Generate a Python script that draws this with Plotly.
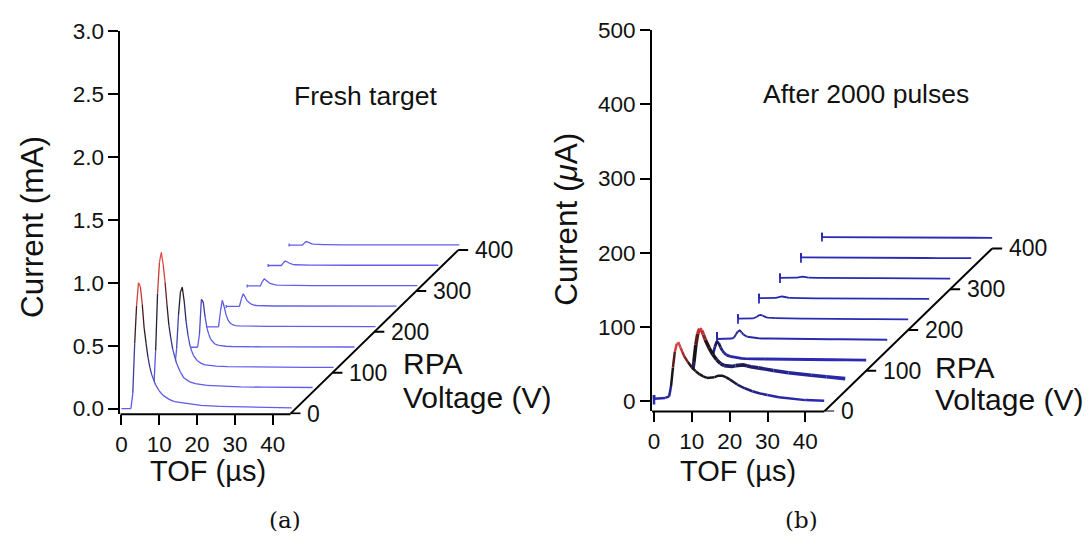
import plotly.graph_objects as go

W, H = 1091, 541

# ---------------- data: panel (a) "Fresh target", current in mA ----------------
rpa_a = [0, 50, 100, 150, 200, 250, 300, 350, 400]
tof_a = [0, 0, 0, 0.5, 2.5, 3.0, 3.5, 4.0, 4.5, 5.0, 5.5, 6.0, 6.5, 7.0, 7.5, 8.0,
         9.0, 10.0, 11.0, 12.5, 14.0, 17.0, 21.0, 26.0, 32.0, 38.0, 45.0]
cur_a_0V = [0, 0, 0, 0, 0, 0.12, 0.52, 0.82, 1.00, 0.97, 0.83, 0.64, 0.52, 0.41, 0.33, 0.27,
            0.19, 0.14, 0.105, 0.075, 0.055, 0.04, 0.025, 0.018, 0.012, 0.008, 0.005]
cur_a_50V = [-0.012, 0.012, 0, 0, 0, 0.0, 0.30, 0.75, 1.00, 1.08, 0.98, 0.84, 0.66, 0.50, 0.40, 0.31,
             0.20, 0.13, 0.08, 0.05, 0.035, 0.022, 0.015, 0.01, 0.008, 0.006, 0.005]
cur_a_100V = [-0.012, 0.012, 0, 0, 0, 0.0, 0.15, 0.42, 0.60, 0.64, 0.53, 0.37, 0.26, 0.18, 0.13, 0.095,
              0.055, 0.035, 0.023, 0.016, 0.012, 0.009, 0.007, 0.005, 0.004, 0.003, 0.002]
cur_a_150V = [-0.012, 0.012, 0, 0, 0, 0, 0, 0.10, 0.38, 0.36, 0.24, 0.15, 0.10, 0.062, 0.04, 0.028,
              0.015, 0.01, 0.008, 0.006, 0.005, 0.004, 0.003, 0.003, 0.002, 0.002, 0.002]
cur_a_200V = [-0.012, 0.012, 0, 0, 0, 0, 0, 0.12, 0.21, 0.16, 0.095, 0.055, 0.032, 0.02, 0.014, 0.01,
              0.007, 0.006, 0.005, 0.004, 0.004, 0.003, 0.003, 0.002, 0.002, 0.002, 0.002]
cur_a_250V = [-0.012, 0.012, 0, 0, 0, 0, 0, 0.06, 0.10, 0.075, 0.045, 0.03, 0.02, 0.012, 0.009, 0.007,
              0.005, 0.004, 0.004, 0.003, 0.003, 0.003, 0.002, 0.002, 0.002, 0.002, 0.002]
cur_a_300V = [-0.012, 0.012, 0, 0, 0, 0, 0, 0.035, 0.056, 0.045, 0.03, 0.02, 0.014, 0.01, 0.008, 0.006,
              0.005, 0.004, 0.003, 0.003, 0.003, 0.002, 0.002, 0.002, 0.002, 0.002, 0.002]
cur_a_350V = [-0.012, 0.012, 0, 0, 0, 0, 0, 0.02, 0.035, 0.03, 0.02, 0.013, 0.009, 0.006, 0.005, 0.004,
              0.004, 0.003, 0.003, 0.003, 0.002, 0.002, 0.002, 0.002, 0.002, 0.002, 0.002]
cur_a_400V = [-0.012, 0.012, 0, 0, 0, 0, 0, 0.015, 0.028, 0.024, 0.016, 0.01, 0.007, 0.005, 0.004, 0.003,
              0.003, 0.003, 0.002, 0.002, 0.002, 0.002, 0.002, 0.002, 0.002, 0.002, 0.002]
curves_a = [cur_a_0V, cur_a_50V, cur_a_100V, cur_a_150V, cur_a_200V,
            cur_a_250V, cur_a_300V, cur_a_350V, cur_a_400V]

# ---------------- data: panel (b) "After 2000 pulses", current in uA ----------------
rpa_b = [0, 50, 100, 150, 200, 250, 300, 350, 400]
tof_b = [0, 0, 0, 0.5, 2.0, 3.0, 4.0, 4.5, 5.0, 5.5, 6.0, 6.5, 7.0, 7.5, 8.0,
         9, 10, 11, 12, 13, 14, 15, 16, 17, 18, 19, 20, 22, 24, 26, 28, 30, 33, 36, 40, 45]
cur_b_0V = [-5, 8, 3, 3, 3, 4, 6, 20, 45, 66, 77, 78, 72, 66, 60,
            52, 45, 40, 36, 33, 31, 31, 32, 34, 34, 32, 29, 22, 17, 13, 10, 8, 5, 3, 1, 0]
cur_b_50V = [-5, 8, 1, 1, 1, 1, 2, 8, 25, 48, 63, 70, 68, 62, 55,
             44, 35, 28, 23, 20, 19, 19, 20, 21, 21, 20, 18.5, 17, 15, 13.5, 12, 10.5, 8.5, 7, 5, 2.5]
cur_b_100V = [-6, 7, 1, 1, 1, 1, 2, 8, 18, 25, 23, 17, 12.5, 9.5, 7,
              5, 3.8, 3, 2.4, 2.1, 1.9, 1.8, 1.7, 1.6, 1.5, 1.5, 1.4, 1.3, 1.2, 1.1, 1.0, 0.9, 0.7, 0.5, 0.3, 0]
cur_b_150V = [-8, 10, 1, 1, 1, 1, 1.5, 3, 7, 11, 12.5, 10, 7, 5, 4,
              3, 2.5, 2, 1.8, 1.6, 1.5, 1.4, 1.3, 1.2, 1.2, 1.1, 1.1, 1.0, 0.9, 0.8, 0.7, 0.6, 0.5, 0.4, 0.2, 0]
cur_b_200V = [-6, 7, 1, 1, 1, 1, 1.2, 2, 3.5, 5.5, 6, 5, 3.5, 2.8, 2.3,
              1.8, 1.6, 1.4, 1.3, 1.2, 1.1, 1.1, 1.0, 1.0, 1.0, 0.9, 0.9, 0.8, 0.7, 0.6, 0.5, 0.4, 0.3, 0.2, 0.1, 0]
cur_b_250V = [-6, 7, 1, 1, 1, 1, 1.1, 1.5, 2.5, 3.3, 3.5, 3, 2.2, 1.8, 1.5,
              1.3, 1.2, 1.1, 1.0, 1.0, 1.0, 0.9, 0.9, 0.9, 0.8, 0.8, 0.8, 0.7, 0.6, 0.5, 0.5, 0.4, 0.3, 0.2, 0.1, 0]
cur_b_300V = [-6, 7, 1, 1, 1, 1, 1.1, 1.3, 2, 2.4, 2.5, 2.2, 1.7, 1.4, 1.2,
              1.1, 1.0, 1.0, 0.9, 0.9, 0.9, 0.9, 0.8, 0.8, 0.8, 0.7, 0.7, 0.6, 0.6, 0.5, 0.4, 0.4, 0.3, 0.2, 0.1, 0]
cur_b_350V = [-6, 7, 1, 1, 1, 1, 1, 1.1, 1.2, 1.3, 1.3, 1.2, 1.1, 1.0, 1.0,
              1.0, 0.9, 0.9, 0.9, 0.9, 0.8, 0.8, 0.8, 0.8, 0.7, 0.7, 0.7, 0.6, 0.6, 0.5, 0.5, 0.4, 0.3, 0.2, 0.1, 0]
cur_b_400V = [-5, 7, 1, 1, 1, 1, 1, 1, 1.1, 1.1, 1.1, 1.1, 1.0, 1.0, 1.0,
              1.0, 0.9, 0.9, 0.9, 0.9, 0.8, 0.8, 0.8, 0.8, 0.7, 0.7, 0.7, 0.6, 0.6, 0.5, 0.5, 0.4, 0.3, 0.2, 0.1, 0]
curves_b = [cur_b_0V, cur_b_50V, cur_b_100V, cur_b_150V, cur_b_200V,
            cur_b_250V, cur_b_300V, cur_b_350V, cur_b_400V]

tof_ticks = [0, 10, 20, 30, 40]
rpa_ticks = [0, 100, 200, 300, 400]
yticks_a = [0.0, 0.5, 1.0, 1.5, 2.0, 2.5, 3.0]
yticks_b = [0, 100, 200, 300, 400, 500]

# ---------------- styling / geometry ----------------
FONT = "Liberation Sans, Arial, sans-serif"
# waterfall offset per volt (TOF units, current units)
shift_a = (0.1108, 0.00325)
shift_b = (0.1110, 0.550)
diag0_a = (44.7, -0.04)
diag0_b = (45.0, -14.3)
xr_a, yr_a = [-0.26, 100], [-0.046, 3.0]
xr_b, yr_b = [-0.53, 100], [-14.3, 500]
xd_a, yd_a = [116 / W, 497 / W], [(H - 417) / H, (H - 20) / H]
xd_b, yd_b = [650 / W, 1032 / W], [(H - 414) / H, (H - 19) / H]
px_per_us = 3.8

stops_a = [(0.0, (95, 95, 235)), (0.18, (88, 88, 220)), (0.40, (45, 45, 125)),
           (0.55, (35, 30, 35)), (0.72, (70, 25, 25)), (0.86, (195, 55, 55)), (1.0, (232, 78, 78))]
stops_b = [(0, (42, 42, 178)), (12, (36, 36, 140)), (25, (28, 25, 60)), (35, (22, 20, 22)),
           (50, (45, 20, 20)), (62, (170, 40, 40)), (75, (218, 70, 70))]
width_a = [1.3] * 9
width_b = [2.5, 3.6, 2.8, 2.0, 1.8, 1.8, 1.8, 1.8, 1.8]


def lerp_color(v, stops):
    if v <= stops[0][0]:
        c = stops[0][1]
    elif v >= stops[-1][0]:
        c = stops[-1][1]
    else:
        for (v0, c0), (v1, c1) in zip(stops, stops[1:]):
            if v0 <= v <= v1:
                t = (v - v0) / (v1 - v0)
                c = tuple(c0[k] + (c1[k] - c0[k]) * t for k in range(3))
                break
    return "rgb(%d,%d,%d)" % tuple(int(round(x)) for x in c)


fig = go.Figure()


def add_curve(tof, cur, volt, shift, stops, step, width, xa, ya):
    xs = [t + volt * shift[0] for t in tof]
    ys = [c + volt * shift[1] for c in cur]
    # white "curtain" below the curve -> hides traces behind (hidden line removal)
    fig.add_trace(go.Scatter(x=xs, y=ys, mode="lines", line=dict(width=0), fill="tozeroy",
                             fillcolor="white", hoverinfo="skip", showlegend=False,
                             xaxis=xa, yaxis=ya))
    groups = {}
    for i in range(len(xs) - 1):
        m = 0.5 * (cur[i] + cur[i + 1])
        q = round(m / step) * step
        col = lerp_color(q, stops)
        g = groups.setdefault(col, {"x": [], "y": [], "last": None})
        if g["last"] == i:
            g["x"].append(xs[i + 1]); g["y"].append(ys[i + 1])
        else:
            if g["x"]:
                g["x"].append(None); g["y"].append(None)
            g["x"] += [xs[i], xs[i + 1]]; g["y"] += [ys[i], ys[i + 1]]
        g["last"] = i + 1
    for col, g in groups.items():
        fig.add_trace(go.Scatter(x=g["x"], y=g["y"], mode="lines",
                                 line=dict(color=col, width=width),
                                 hoverinfo="skip", showlegend=False, xaxis=xa, yaxis=ya))


# draw back (high RPA voltage) to front
for k in reversed(range(len(rpa_a))):
    add_curve(tof_a, curves_a[k], rpa_a[k], shift_a, stops_a, 0.04, width_a[k], "x", "y")
for k in reversed(range(len(rpa_b))):
    add_curve(tof_b, curves_b[k], rpa_b[k], shift_b, stops_b, 3.0, width_b[k], "x2", "y2")


def add_diag(diag0, shift, xa, ya):
    tick_len = 10 / px_per_us
    vmax = rpa_ticks[-1]
    xs = [diag0[0], diag0[0] + vmax * shift[0]]
    ys = [diag0[1], diag0[1] + vmax * shift[1]]
    for v in rpa_ticks:
        bx, by = diag0[0] + v * shift[0], diag0[1] + v * shift[1]
        xs += [None, bx, bx + tick_len]
        ys += [None, by, by]
        fig.add_annotation(x=bx + 15 / px_per_us, y=by, xref=xa, yref=ya, text=str(v),
                           showarrow=False, xanchor="left", yanchor="middle",
                           font=dict(size=23, color="#111", family=FONT))
    fig.add_trace(go.Scatter(x=xs, y=ys, mode="lines", line=dict(color="black", width=2),
                             hoverinfo="skip", showlegend=False, xaxis=xa, yaxis=ya))


add_diag(diag0_a, shift_a, "x", "y")
add_diag(diag0_b, shift_b, "x2", "y2")


def to_paper_x(v, dom, rng):
    return dom[0] + (v - rng[0]) / (rng[1] - rng[0]) * (dom[1] - dom[0])


# TOF baseline (only from y axis to the start of the RPA axis)
for dom, rng, yd, d0 in [(xd_a, xr_a, yd_a, diag0_a), (xd_b, xr_b, yd_b, diag0_b)]:
    fig.add_shape(type="line", xref="paper", yref="paper",
                  x0=dom[0], x1=to_paper_x(d0[0], dom, rng), y0=yd[0], y1=yd[0],
                  line=dict(color="black", width=2), layer="above")

axis_common = dict(showgrid=False, zeroline=False, ticks="outside", tickcolor="black",
                   tickwidth=2, tickfont=dict(size=22.5, color="#111", family=FONT))
fig.update_layout(
    width=W, height=H, margin=dict(l=0, r=0, t=0, b=0),
    paper_bgcolor="white", plot_bgcolor="rgba(0,0,0,0)",
    font=dict(family=FONT, color="#111"),
    xaxis=dict(domain=xd_a, range=xr_a, tickvals=tof_ticks, ticklen=10, showline=False,
               anchor="y", **axis_common),
    yaxis=dict(domain=yd_a, range=yr_a, tickvals=yticks_a,
               ticktext=["%.1f" % v for v in yticks_a], ticklen=10, showline=True,
               linecolor="black", linewidth=2, anchor="x", **axis_common),
    xaxis2=dict(domain=xd_b, range=xr_b, tickvals=tof_ticks, ticklen=10, showline=False,
                anchor="y2", **axis_common),
    yaxis2=dict(domain=yd_b, range=yr_b, tickvals=yticks_b,
                ticktext=[str(v) for v in yticks_b], ticklen=10, showline=True,
                linecolor="black", linewidth=2, anchor="x2", **axis_common),
)


def ann(x, y, text, size, angle=0, xanchor="center", family=FONT):
    fig.add_annotation(x=x / W, y=1 - y / H, xref="paper", yref="paper", text=text,
                       showarrow=False, textangle=angle, xanchor=xanchor, yanchor="middle",
                       font=dict(size=size, color="#111", family=family))


ann(27, 223, "Current (mA)", 31.5, angle=-90)
ann(564, 215, "Current (<i>μ</i>A)", 31.5, angle=-90)
ann(204, 476, "TOF (µs)", 29)
ann(736, 476, "TOF (µs)", 29)
ann(363, 87, "Fresh target", 26.5)
ann(865, 85, "After 2000 pulses", 26.5)
ann(398, 364, "RPA", 30, xanchor="left")
ann(398, 400, "Voltage (V)", 30, xanchor="left")
ann(932, 368, "RPA", 30, xanchor="left")
ann(932, 402, "Voltage (V)", 30, xanchor="left")
ann(281, 526, "(a)", 23, family="DejaVu Serif, serif")
ann(800, 526, "(b)", 23, family="DejaVu Serif, serif")

fig.write_html("out.html")
